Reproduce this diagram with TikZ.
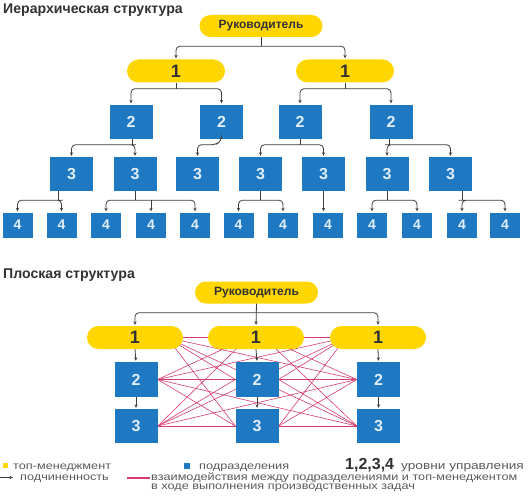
\documentclass[tikz,border=0pt]{standalone}
\usepackage{fontspec}
\setmainfont{Liberation Sans}
\newfontfamily\legendfont[FakeStretch=1.22]{Liberation Sans}
\usetikzlibrary{calc,arrows.meta,backgrounds}
\definecolor{myyellow}{RGB}{255,214,0}
\definecolor{myblue}{RGB}{30,120,194}
\definecolor{myred}{RGB}{214,60,110}
\definecolor{darktext}{RGB}{50,50,50}
\definecolor{digit}{RGB}{225,238,250}
\definecolor{conncol}{RGB}{60,60,60}
\definecolor{legtext}{RGB}{90,90,90}
\begin{document}
\begin{tikzpicture}[x=1pt,y=-1pt,
  pill/.style={fill=myyellow, inner sep=0pt, text=darktext},
  boss/.style={pill, rounded corners=11pt, minimum width=123pt, minimum height=22pt, font=\bfseries\fontsize{12}{12}\selectfont},
  lvl/.style={pill, rounded corners=11.5pt, minimum width=98pt, minimum height=23pt, font=\bfseries\fontsize{18}{18}\selectfont},
  box/.style={fill=myblue, inner sep=0pt, text=digit, font=\bfseries\fontsize{16}{16}\selectfont, minimum width=43pt, minimum height=34pt},
  smallbox/.style={box, minimum width=30pt, minimum height=25pt, font=\bfseries\fontsize{14}{14}\selectfont},
  tip/.tip={Stealth[length=3.5pt,width=3.2pt]},
  conn/.style={draw=conncol, line width=0.8pt, rounded corners=4pt, -tip, shorten >=1pt},
  conn2/.style={conn, tip-tip, shorten <=1pt},
  plain/.style={draw=conncol, line width=0.8pt},
  rel/.style={draw=myred, line width=0.6pt},
  title/.style={anchor=west, inner sep=0pt, text=darktext, font=\bfseries\fontsize{14.1}{15}\selectfont},
  legend/.style={anchor=base west, inner sep=0pt, text=legtext, font=\legendfont\fontsize{10.4}{9.5}\selectfont},
]
\useasboundingbox (0,0) rectangle (529,500);

% ---------- Hierarchical ----------
\node[title] (t1) at (3,10) {Иерархическая структура};
\node[boss] (R1) at (261,26) {Руководитель};
\node[lvl] (A1) at (176,71) {1};
\node[lvl] (A2) at (345,71) {1};
\node[box] (B1) at (131,121.5) {2};
\node[box] (B2) at (221.5,121.5) {2};
\node[box] (B3) at (300,121.5) {2};
\node[box] (B4) at (391,121.5) {2};
\foreach \n/\x in {1/71.5,2/135,3/197.5,4/260.5,5/323.5,6/387,7/450.5}
  \node[box] (C\n) at (\x,174) {3};
\foreach \n/\x in {1/17.5,2/61.5,3/106,4/151,5/195,6/238.5,7/283,8/328,9/372,10/417,11/462,12/505}
  \node[smallbox] (D\n) at (\x,225) {4};

% R1 -> level 1
\coordinate (j0) at ($(R1.south)+(0,9)$);
\draw[plain] (R1.south) -- (j0);
\draw[conn2] (A1.north) |- (j0) -| (A2.north);
% level 1 -> level 2
\coordinate (j1) at ($(A1.south)+(0,6)$);
\coordinate (j2) at ($(A2.south)+(0,6)$);
\draw[plain] (A1.south) -- (j1);
\draw[plain] (A2.south) -- (j2);
\draw[conn2] (B1.north) |- (j1) -| (B2.north);
\draw[conn2] (B3.north) |- (j2) -| (B4.north);
% level 2 -> level 3
\coordinate (k1) at ($(B1.south)+(1,6)$);
\coordinate (k3) at ($(B3.south)+(0,6)$);
\coordinate (k4) at ($(B4.south)+(-2,6)$);
\draw[plain] (B1.south -| k1) -- (k1);
\draw[plain] (B3.south) -- (k3);
\draw[plain] (B4.south -| k4) -- (k4);
\draw[conn2] (C1.north) |- (k1) -| (C2.north);
\draw[conn] (B2.south) -- ++(0,2) -- ++(-6,4) -| (C3.north);
\draw[conn2] (C4.north) |- (k3) -| (C5.north);
\draw[conn2] (C6.north) |- (k4) -| (C7.north);
% level 3 -> level 4
\coordinate (m1) at ($(C1.south)+(-13,9)$);
\coordinate (m2) at ($(C2.south)+(0,9)$);
\coordinate (m4) at ($(C4.south)+(0,9)$);
\coordinate (m6) at ($(C6.south)+(0,9)$);
\coordinate (m7) at ($(C7.south)+(12,9)$);
\draw[plain] (C1.south -| m1) -- (m1);
\draw[plain] (C2.south) -- (m2);
\draw[plain] (C4.south) -- (m4);
\draw[plain] (C6.south) -- (m6);
\draw[plain] (C7.south -| m7) -- (m7);
\draw[conn2] (D1.north) |- (m1) -| (D2.north);
\draw[conn2] (D3.north) |- (m2) -| (D5.north);
\draw[conn] (D4.north |- m2) -- (D4.north);
\draw[conn2] (D6.north) |- (m4) -| (D7.north);
\draw[conn] (C5.south) -- (C5.south |- D8.north);
\draw[conn2] (D9.north) |- (m6) -| (D10.north);
\draw[conn2] (D11.north) |- (m7) -| (D12.north);

% ---------- Flat ----------
\node[title] (t2) at (3,275) {Плоская структура};
\node[boss] (R2) at (256.5,292.5) {Руководитель};
\node[lvl, minimum width=96pt] (P1) at (135,337.5) {1};
\node[lvl, minimum width=96pt] (P2) at (256,337.5) {1};
\node[lvl, minimum width=96pt] (P3) at (378,337.5) {1};
\node[box, minimum height=35pt] (E1) at (136,379.5) {2};
\node[box, minimum height=35pt] (E2) at (257,379.5) {2};
\node[box, minimum height=35pt] (E3) at (378.5,379.5) {2};
\node[box] (F1) at (136,426) {3};
\node[box] (F2) at (257,426) {3};
\node[box] (F3) at (378.5,426) {3};

\coordinate (q0) at ($(R2.south)+(0,9)$);
\draw[conn2] (P1.north) |- (q0) -| (P3.north);
\draw[conn] (R2.south) -- (P2.north);
\foreach \i in {1,2,3} {
  \draw[conn] (P\i.south) -- (E\i.north);
  \draw[conn] (E\i.south) -- (F\i.north);
}

\begin{scope}[on background layer]
  \draw[rel] (P1.east) -- (P2.west);
  \draw[rel] (P2.east) -- (P3.west);
  \foreach \t in {E2.west,F2.west,E3.west,F3.west}
    \draw[rel] ($(P1.center)+(32,0)$) -- (\t);
  \foreach \t in {E1.east,F1.east}
    \draw[rel] ($(P2.center)+(-8,0)$) -- (\t);
  \foreach \t in {E3.west,F3.west}
    \draw[rel] ($(P2.center)+(8,0)$) -- (\t);
  \foreach \t in {E1.east,F1.east,E2.east,F2.east}
    \draw[rel] ($(P3.center)+(-32,0)$) -- (\t);
  \foreach \s in {E1.east,F1.east}
    \foreach \t in {E2.west,F2.west,E3.west,F3.west}
      \draw[rel] (\s) -- (\t);
  \foreach \s in {E2.east,F2.east}
    \foreach \t in {E3.west,F3.west}
      \draw[rel] (\s) -- (\t);
\end{scope}

% ---------- Legend ----------
\node[fill=myyellow, minimum size=5pt, inner sep=0pt] (ly) at (5.5,465.5) {};
\node[legend] (lt1) at (13,469) {топ-менеджмент};
\node[fill=myblue, minimum size=6pt, inner sep=0pt] (lb) at (186.5,465.5) {};
\node[legend] (lt2) at (199,469) {подразделения};
\node[anchor=base west, inner sep=0pt, text=darktext, font=\bfseries\fontsize{16}{16}\selectfont] (lnum) at (345,469.5) {1,2,3,4};
\node[legend, font=\legendfont\fontsize{11.2}{11}\selectfont] (lt3) at (401,469) {уровни управления};
\coordinate (la0) at (0,477.5);
\coordinate (la1) at (13,477.5);
\draw[conn, rounded corners=0pt, shorten >=0pt] (la0) -- (la1);
\node[legend] (lt4) at (20,480.5) {подчиненность};
\coordinate (lr0) at (127,477.5);
\coordinate (lr1) at (150,477.5);
\draw[myred, line width=2pt] (lr0) -- (lr1);
\node[legend] (lt5) at (151,480.5) {взаимодействия между подразделениями и топ-менеджентом};
\node[legend] (lt6) at (151,489.5) {в ходе выполнения производственных задач};
\end{tikzpicture}
\end{document}
